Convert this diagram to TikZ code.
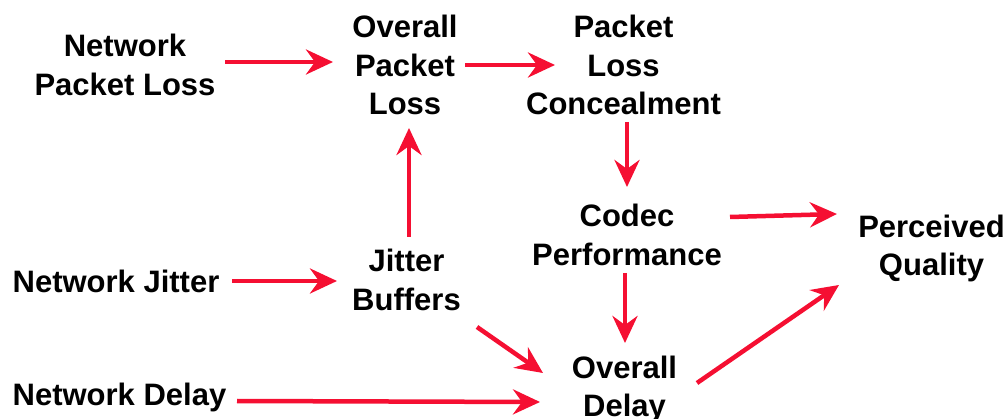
\documentclass[tikz,border=0pt]{standalone}
\usepackage{fontspec}
\setmainfont{Liberation Sans}
\usetikzlibrary{arrows.meta,calc}
\definecolor{arrred}{RGB}{245,15,50}
\tikzset{
  lbl/.style={align=center,inner sep=0pt,text=black,font=\fontsize{31}{38.5}\selectfont\bfseries},
  arr/.style={draw=arrred,line width=4.5pt,-{Stealth[length=27pt,width=25pt,inset=9pt,fill=arrred]}}
}
\begin{document}
\begin{tikzpicture}[x=1pt,y=-1pt]
\useasboundingbox (0,0) rectangle (1007,419);
\node[lbl] (npl) at (125,64.75) {Network\\Packet Loss};
\node[lbl] (opl) at (405,65.25) {Overall\\Packet\\Loss};
\node[lbl] (plc) at (623.5,65.25) {Packet\\Loss\\Concealment};
\node[lbl] (codec) at (627,234.75) {Codec\\Performance};
\node[lbl] (pq) at (931.5,248.5) {Perceived\\Quality};
\node[lbl] (nj) at (116,281.75) {Network Jitter};
\node[lbl] (jb) at (406.5,279.75) {Jitter\\Buffers};
\node[lbl] (nd) at (119.5,397) {Network Delay};
\node[lbl] (od) at (624.5,389.25) {Overall\\Delay};
\draw[arr] ($(npl)+(100,-2.75)$) -- ($(opl)+(-72,-3.25)$);
\draw[arr] ($(opl)+(60,-0.25)$) -- ($(plc)+(-68.5,-0.25)$);
\draw[arr] ($(plc)+(3.5,56.75)$) -- ($(codec)+(0,-47.75)$);
\draw[arr] ($(codec)+(103,-17.75)$) -- ($(pq)+(-94.5,-34.5)$);
\draw[arr] ($(jb)+(2.5,-42.75)$) -- ($(opl)+(4,62.75)$);
\draw[arr] ($(nj)+(116,-0.75)$) -- ($(jb)+(-69.5,1.25)$);
\draw[arr] ($(jb)+(70.5,47.25)$) -- ($(od)+(-81.5,-16.25)$);
\draw[arr] ($(codec)+(-2,38.25)$) -- ($(od)+(0.5,-46.25)$);
\draw[arr] ($(nd)+(117.5,4)$) -- ($(od)+(-84.5,12.75)$);
\draw[arr] ($(od)+(72.5,-6.25)$) -- ($(pq)+(-92.5,36.5)$);
\end{tikzpicture}
\end{document}
